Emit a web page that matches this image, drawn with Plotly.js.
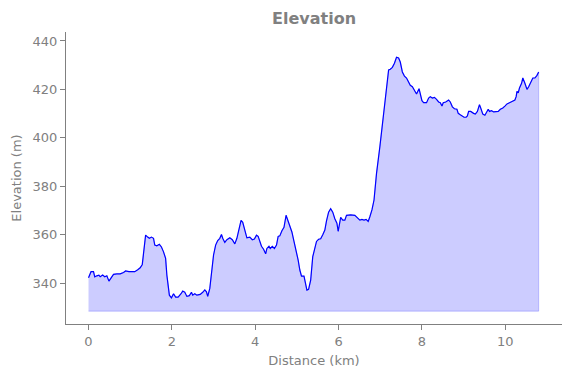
<!DOCTYPE html>
<html>
<head>
<meta charset="utf-8">
<script src="https://cdn.plot.ly/plotly-3.0.1.min.js"></script>
<style>html,body{margin:0;padding:0;background:#fff;}#chart{width:571px;height:378px;}</style>
</head>
<body>
<div id="chart"></div>
<script>
// Distance along the route (km)
const distanceKm = [
0.00,0.02,0.06,0.12,0.15,0.20,0.25,0.28,0.34,0.39,0.44,0.49,0.54,0.60,0.68,0.76,0.84,0.89,0.97,1.05,
1.11,1.18,1.24,1.29,1.32,1.37,1.42,1.46,1.51,1.56,1.59,1.64,1.70,1.75,1.80,1.85,1.88,1.91,1.94,1.99,
2.04,2.09,2.15,2.22,2.26,2.31,2.36,2.42,2.47,2.50,2.55,2.60,2.68,2.74,2.79,2.83,2.86,2.91,2.95,3.00,
3.05,3.10,3.15,3.19,3.22,3.27,3.32,3.39,3.45,3.51,3.56,3.61,3.66,3.70,3.75,3.80,3.87,3.93,3.98,4.03,
4.07,4.11,4.15,4.20,4.25,4.28,4.33,4.36,4.41,4.46,4.51,4.55,4.59,4.64,4.69,4.74,4.79,4.83,4.88,4.93,
4.98,5.03,5.07,5.11,5.17,5.20,5.24,5.28,5.33,5.38,5.43,5.47,5.52,5.57,5.62,5.67,5.71,5.76,5.81,5.86,
5.91,5.96,5.99,6.02,6.05,6.10,6.15,6.19,6.29,6.39,6.47,6.51,6.56,6.61,6.66,6.71,6.75,6.80,6.85,6.91,
6.99,7.07,7.15,7.20,7.24,7.29,7.34,7.39,7.44,7.48,7.53,7.58,7.63,7.68,7.72,7.77,7.82,7.87,7.93,7.96,
8.00,8.04,8.11,8.16,8.20,8.25,8.30,8.35,8.40,8.44,8.48,8.51,8.57,8.64,8.68,8.73,8.78,8.84,8.87,8.92,
8.96,9.01,9.06,9.09,9.12,9.17,9.24,9.28,9.33,9.38,9.41,9.46,9.51,9.56,9.59,9.62,9.67,9.72,9.78,9.83,
9.88,9.94,9.99,10.04,10.10,10.16,10.23,10.26,10.28,10.31,10.34,10.39,10.42,10.47,10.52,10.56,10.61,10.66,10.71,10.76,
10.80
];
// Elevation (m)
const elevationM = [
342.2,343.3,344.7,344.7,342.6,343.0,343.3,342.6,343.3,342.6,343.0,340.8,342.2,343.6,343.8,343.8,344.4,345.0,344.7,344.7,
344.7,345.5,346.3,347.7,351.6,359.8,359.0,358.5,359.0,358.5,355.7,355.4,356.0,354.9,352.9,350.2,343.3,337.8,335.0,333.9,
335.6,334.2,334.2,335.6,336.7,336.2,334.5,334.8,336.2,335.0,335.6,335.0,335.3,336.2,337.2,336.4,334.5,337.8,344.7,351.6,
355.7,357.6,358.5,360.1,358.5,356.8,357.9,358.7,357.9,356.2,358.5,362.6,365.9,365.1,361.2,358.7,359.0,357.9,358.2,359.8,
359.3,357.1,355.2,354.0,352.1,354.3,355.2,354.3,355.2,354.3,355.7,359.3,359.5,361.6,363.0,368.0,365.7,363.3,361.1,357.2,
353.6,349.5,345.4,342.9,342.9,339.9,337.1,337.4,341.2,350.9,355.0,357.2,358.1,358.3,360.0,361.9,365.7,369.3,370.7,369.3,
366.6,364.7,361.4,364.4,367.1,366.0,366.0,368.0,368.2,368.0,366.9,366.0,366.3,366.0,366.3,365.5,367.4,370.2,374.3,385.3,
396.3,408.7,421.1,428.0,428.3,429.1,430.8,433.3,433.0,431.3,427.2,425.5,424.7,423.1,421.7,421.1,419.7,418.1,420.3,418.1,
415.3,414.5,414.5,416.4,417.0,416.4,416.7,415.9,414.8,414.5,413.1,414.5,414.8,415.6,414.8,412.8,412.0,411.8,410.1,409.5,
409.0,408.5,408.5,409.0,410.9,410.9,410.1,409.8,410.9,413.7,412.3,409.8,409.3,410.7,411.8,410.9,411.2,410.7,410.7,410.9,
411.8,412.3,413.1,414.0,414.5,415.1,415.6,417.0,419.2,418.6,420.6,422.5,424.7,422.5,420.0,421.1,423.3,424.7,424.7,425.8,
427.2
];
// Base level of the shaded area (m)
const fillBase = [328.4];

const xTicks = [0, 2, 4, 6, 8, 10];
const yTicks = [340, 360, 380, 400, 420, 440];

const polyX = distanceKm.concat(distanceKm.slice().reverse());
const polyY = elevationM.concat(distanceKm.map(() => fillBase[0]));

const gray = '#808080';
const traces = [
  {
    x: polyX, y: polyY, type: 'scatter', mode: 'lines',
    fill: 'toself', fillcolor: 'rgba(0,0,255,0.2)',
    line: {color: 'rgba(0,0,255,0.2)', width: 1},
    hoverinfo: 'skip', showlegend: false
  },
  {
    x: distanceKm, y: elevationM, type: 'scatter', mode: 'lines',
    line: {color: '#0000ff', width: 1.2},
    showlegend: false
  }
];

const layout = {
  width: 571, height: 378,
  margin: {l: 66, r: 9, t: 32, b: 54, pad: 0},
  paper_bgcolor: '#ffffff', plot_bgcolor: '#ffffff',
  font: {family: 'DejaVu Sans', color: gray, size: 13},
  title: {text: '<b>Elevation</b>', x: 0.55, xanchor: 'center', y: 0.952, yanchor: 'middle',
          font: {family: 'DejaVu Sans', size: 16, color: gray}},
  xaxis: {
    range: [-0.54, 11.36], tickvals: xTicks, ticktext: xTicks.map(String),
    showgrid: false, zeroline: false, showline: true, linecolor: gray, linewidth: 1,
    ticks: 'outside', ticklen: 5, tickcolor: gray, tickwidth: 1,
    tickfont: {size: 13, color: gray},
    title: {text: 'Distance (km)', font: {size: 13, color: gray}, standoff: 8}
  },
  yaxis: {
    range: [323.1, 443.7], tickvals: yTicks, ticktext: yTicks.map(String),
    showgrid: false, zeroline: false, showline: true, linecolor: gray, linewidth: 1,
    ticks: 'outside', ticklen: 5, tickcolor: gray, tickwidth: 1,
    tickfont: {size: 13, color: gray},
    title: {text: 'Elevation (m)', font: {size: 13, color: gray}, standoff: 8}
  }
};

Plotly.newPlot('chart', traces, layout, {staticPlot: true, displayModeBar: false});
</script>
</body>
</html>
